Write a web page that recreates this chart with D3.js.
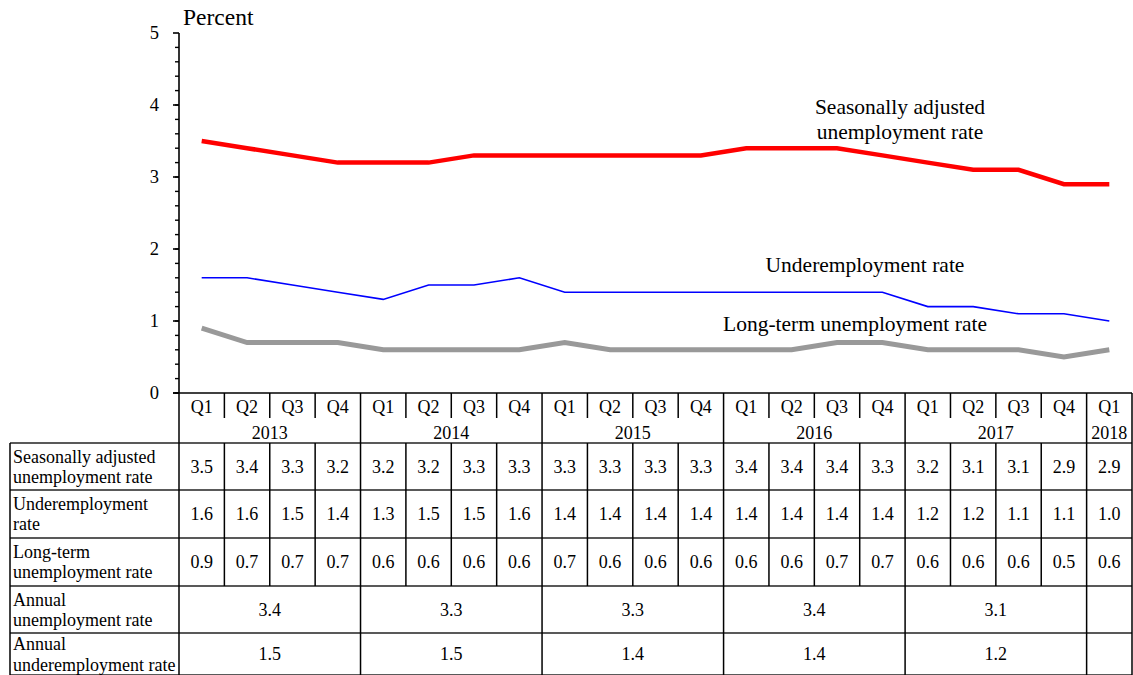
<!DOCTYPE html>
<html>
<head>
<meta charset="utf-8">
<script src="https://cdn.jsdelivr.net/npm/d3@7/dist/d3.min.js"></script>
<style>
  html, body { margin: 0; padding: 0; background: #fff; }
  svg { display: block; font-family: "Liberation Serif", "Times New Roman", serif; }
</style>
</head>
<body>
<svg id="chart" width="1133" height="675"></svg>
<script>
// Quarterly periods
const quarters = ["Q1","Q2","Q3","Q4","Q1","Q2","Q3","Q4","Q1","Q2","Q3","Q4",
                  "Q1","Q2","Q3","Q4","Q1","Q2","Q3","Q4","Q1"];
const years = ["2013","2014","2015","2016","2017","2018"];
const quartersPerYear = [4, 4, 4, 4, 4, 1];

// Series values (percent)
const seasonallyAdjusted = [3.5,3.4,3.3,3.2, 3.2,3.2,3.3,3.3, 3.3,3.3,3.3,3.3,
                            3.4,3.4,3.4,3.3, 3.2,3.1,3.1,2.9, 2.9];
const underemployment    = [1.6,1.6,1.5,1.4, 1.3,1.5,1.5,1.6, 1.4,1.4,1.4,1.4,
                            1.4,1.4,1.4,1.4, 1.2,1.2,1.1,1.1, 1.0];
const longTerm           = [0.9,0.7,0.7,0.7, 0.6,0.6,0.6,0.6, 0.7,0.6,0.6,0.6,
                            0.6,0.6,0.7,0.7, 0.6,0.6,0.6,0.5, 0.6];
const annualUnemployment    = [3.4, 3.3, 3.3, 3.4, 3.1, null];
const annualUnderemployment = [1.5, 1.5, 1.4, 1.4, 1.2, null];

// Table row labels
const rowLabels = [
  ["Seasonally adjusted", "unemployment rate"],
  ["Underemployment", "rate"],
  ["Long-term", "unemployment rate"],
  ["Annual", "unemployment rate"],
  ["Annual", "underemployment rate"]
];
const yTicks = [0, 1, 2, 3, 4, 5];

(function draw() {
  const svg = d3.select("#chart");
  const plotLeft = 179, plotRight = 1132, plotTop = 33, plotBottom = 393;
  const tableLeft = 10;
  const rowEdges = [443, 490, 538, 586, 633, 675];
  const qRowBottom = 418;

  const x = d3.scaleBand().domain(d3.range(quarters.length)).range([plotLeft, plotRight]).padding(0);
  const cx = i => x(i) + x.bandwidth() / 2;
  const y = d3.scaleLinear().domain([0, 5]).range([plotBottom, plotTop]);
  const fmt = d3.format(".1f");

  // Y axis with minor ticks
  const yAxis = svg.append("g").attr("transform", `translate(${plotLeft},0)`);
  yAxis.append("line").attr("x1", 0).attr("x2", 0).attr("y1", y(5)).attr("y2", y(0))
    .attr("stroke", "#000").attr("stroke-width", 1.6);
  yAxis.selectAll("line.minor").data(d3.range(0, 25).map(d => d / 5)).join("line")
    .attr("class", "minor")
    .attr("x1", -4).attr("x2", 0)
    .attr("y1", d => y(d)).attr("y2", d => y(d))
    .attr("stroke", "#000").attr("stroke-width", 1.4);
  yAxis.selectAll("line.major").data(yTicks).join("line")
    .attr("class", "major")
    .attr("x1", -6).attr("x2", 0)
    .attr("y1", d => y(d)).attr("y2", d => y(d))
    .attr("stroke", "#000").attr("stroke-width", 1.6);
  yAxis.selectAll("text").data(yTicks).join("text")
    .attr("x", -20).attr("y", d => y(d) + 6)
    .attr("text-anchor", "end").attr("font-size", 18.5).text(d => d);

  svg.append("text").attr("x", 183).attr("y", 25).attr("font-size", 23.5).text("Percent");

  // Lines
  const line = data => d3.line().x((d, i) => cx(i)).y(d => y(d))(data);
  svg.append("path").attr("d", line(longTerm)).attr("fill", "none")
    .attr("stroke", "#999999").attr("stroke-width", 5);
  svg.append("path").attr("d", line(underemployment)).attr("fill", "none")
    .attr("stroke", "#0000ff").attr("stroke-width", 1.6);
  svg.append("path").attr("d", line(seasonallyAdjusted)).attr("fill", "none")
    .attr("stroke", "#ff0000").attr("stroke-width", 4.5);

  // Line annotations
  const ann = svg.append("g").attr("font-size", 21.5).attr("text-anchor", "middle");
  ann.append("text").attr("x", 900).attr("y", 114).text("Seasonally adjusted");
  ann.append("text").attr("x", 900).attr("y", 139).text("unemployment rate");
  ann.append("text").attr("x", 865).attr("y", 272).text("Underemployment rate");
  ann.append("text").attr("x", 855).attr("y", 331).text("Long-term unemployment rate");

  // Table
  const tbl = svg.append("g");
  const stroke = (sel, c = "#000", w = 1.5) => sel.attr("stroke", c).attr("stroke-width", w);

  // First quarter index of each year
  const yearStarts = [];
  let acc = 0;
  quartersPerYear.forEach(n => { yearStarts.push(acc); acc += n; });
  const xEdge = i => (i >= quarters.length ? plotRight : x(i));
  const yearMid = k => (xEdge(yearStarts[k]) + xEdge(yearStarts[k] + quartersPerYear[k])) / 2;
  const innerSeps = d3.range(1, quarters.length).filter(i => !yearStarts.includes(i));

  // Quarter labels row
  tbl.selectAll("text.q").data(quarters).join("text").attr("class", "q")
    .attr("x", (d, i) => cx(i)).attr("y", 413)
    .attr("text-anchor", "middle").attr("font-size", 18).text(d => d);
  // Short separators between quarters
  tbl.selectAll("line.qsep").data(innerSeps).join("line").attr("class", "qsep")
    .attr("x1", i => x(i)).attr("x2", i => x(i)).attr("y1", plotBottom).attr("y2", qRowBottom)
    .call(stroke);
  // Year labels row
  tbl.selectAll("text.yr").data(years).join("text").attr("class", "yr")
    .attr("x", (d, k) => yearMid(k))
    .attr("y", 439).attr("text-anchor", "middle").attr("font-size", 18).text(d => d);

  // X axis / table top
  tbl.append("line").attr("x1", plotLeft - 6).attr("x2", plotRight)
    .attr("y1", plotBottom).attr("y2", plotBottom).call(stroke, "#000", 1.6);

  // Horizontal rules of the data rows
  tbl.selectAll("line.h").data(rowEdges).join("line").attr("class", "h")
    .attr("x1", tableLeft).attr("x2", plotRight).attr("y1", d => d).attr("y2", d => d)
    .call(stroke, "#222", 1.5);
  // Outer and label-column borders
  tbl.append("line").attr("x1", tableLeft).attr("x2", tableLeft).attr("y1", rowEdges[0]).attr("y2", 675).call(stroke);
  tbl.append("line").attr("x1", plotLeft).attr("x2", plotLeft).attr("y1", plotBottom).attr("y2", 675).call(stroke);
  tbl.append("line").attr("x1", plotRight).attr("x2", plotRight).attr("y1", plotBottom).attr("y2", 675).call(stroke);
  // Year separators across the full table
  tbl.selectAll("line.ysep").data(yearStarts.slice(1)).join("line").attr("class", "ysep")
    .attr("x1", i => x(i)).attr("x2", i => x(i)).attr("y1", plotBottom).attr("y2", 675).call(stroke);
  // Quarter separators in the quarterly data rows
  tbl.selectAll("line.dsep").data(innerSeps).join("line").attr("class", "dsep")
    .attr("x1", i => x(i)).attr("x2", i => x(i)).attr("y1", rowEdges[0]).attr("y2", rowEdges[3]).call(stroke);

  // Row labels
  rowLabels.forEach((lines, r) => {
    const y0 = rowEdges[r];
    const off = r === 4 ? [16.5, 37.5] : [20, 40];
    lines.forEach((t, j) => {
      tbl.append("text").attr("x", 13).attr("y", y0 + off[j]).attr("font-size", 18).text(t);
    });
  });

  // Quarterly values
  [seasonallyAdjusted, underemployment, longTerm].forEach((series, r) => {
    const mid = (rowEdges[r] + rowEdges[r + 1]) / 2;
    tbl.append("g").selectAll("text").data(series).join("text")
      .attr("x", (d, i) => cx(i)).attr("y", mid + 6)
      .attr("text-anchor", "middle").attr("font-size", 18).text(d => fmt(d));
  });

  // Annual values
  [annualUnemployment, annualUnderemployment].forEach((series, k) => {
    const r = 3 + k;
    const mid = (rowEdges[r] + rowEdges[r + 1]) / 2;
    tbl.append("g").selectAll("text")
      .data(series.map((v, j) => ({ v, j })).filter(d => d.v !== null)).join("text")
      .attr("x", d => yearMid(d.j))
      .attr("y", mid + 6).attr("text-anchor", "middle").attr("font-size", 18).text(d => fmt(d.v));
  });
})();
</script>
</body>
</html>
